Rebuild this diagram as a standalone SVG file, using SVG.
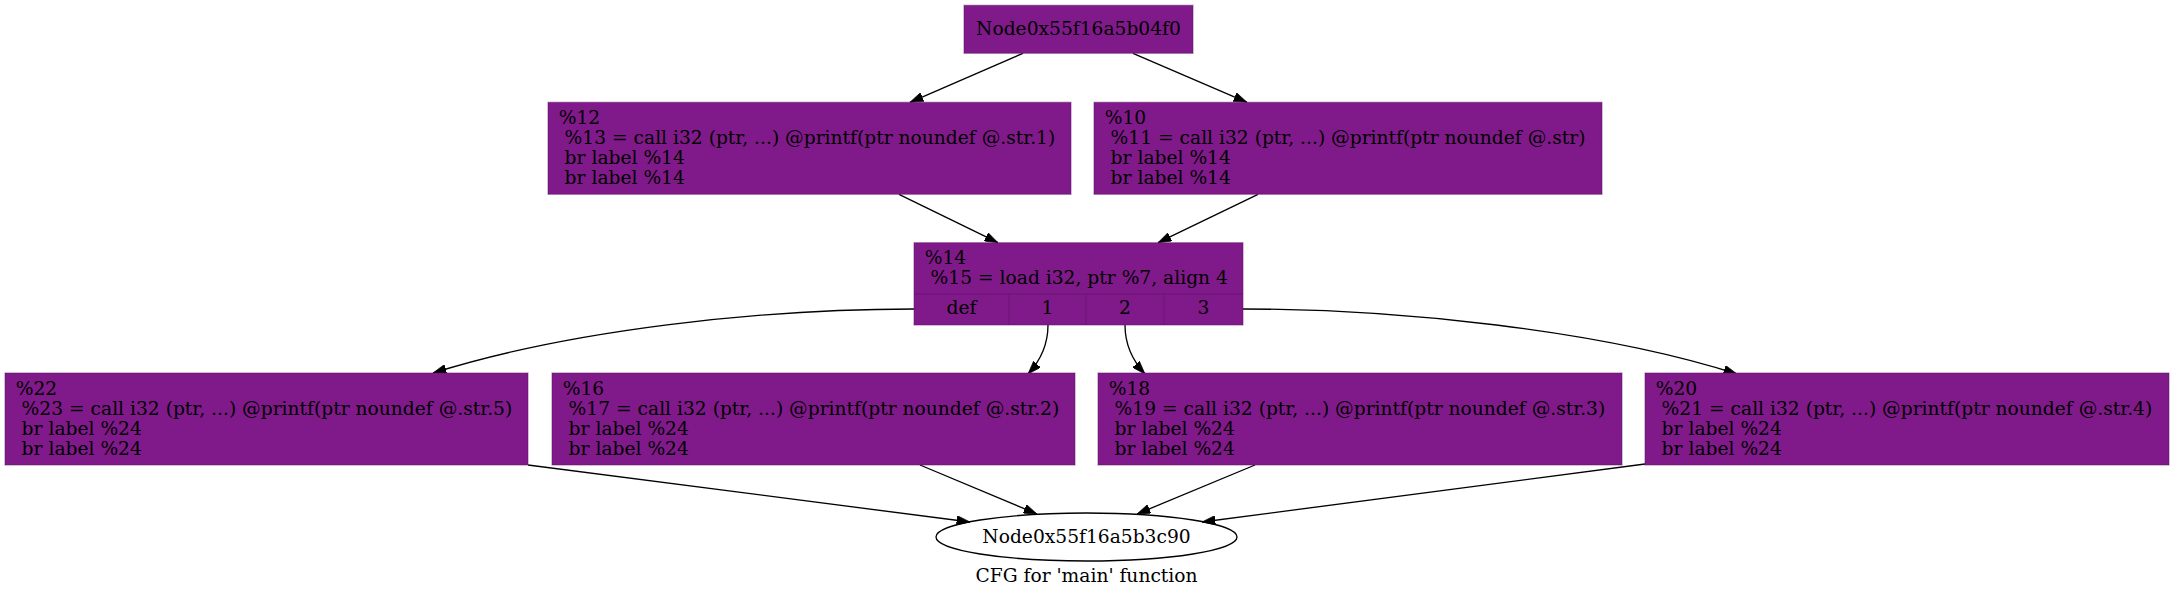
<svg xmlns="http://www.w3.org/2000/svg" width="2173" height="597" viewBox="0 0 2173 597" xml:space="preserve">
<style>
text{font-family:"DejaVu Serif","Liberation Serif",serif;font-size:18.67px;fill:#000;white-space:pre}
.c{text-anchor:middle}
.box{fill:#801a8a;stroke:#5a0f63;stroke-opacity:0.4;stroke-width:1.33}
.div{fill:none;stroke:#5a0f63;stroke-opacity:0.4;stroke-width:1.33}
.e{fill:none;stroke:#000;stroke-width:1.33}
</style>
<defs>
<marker id="ah" viewBox="0 0 10 7" refX="10" refY="3.5" markerWidth="13.33" markerHeight="9.33" markerUnits="userSpaceOnUse" orient="auto">
<path d="M0,0 L10,3.5 L0,7 Z" fill="#000" stroke="#000" stroke-width="0.5"/>
</marker>
</defs>
<rect width="2173" height="597" fill="#fff"/>
<g id="edges">
<path class="e" marker-end="url(#ah)" d="M1023,53.3 L910,102.3"/>
<path class="e" marker-end="url(#ah)" d="M1133,53.3 L1247,102.3"/>
<path class="e" marker-end="url(#ah)" d="M899,194.3 L998,242.7"/>
<path class="e" marker-end="url(#ah)" d="M1258,194.3 L1158,242.7"/>
<path class="e" marker-end="url(#ah)" d="M914,309 C760,309 570,330 433,373"/>
<path class="e" marker-end="url(#ah)" d="M1048,325 C1048,345 1041,360 1028,374"/>
<path class="e" marker-end="url(#ah)" d="M1125,325 C1125,345 1132,360 1145,374"/>
<path class="e" marker-end="url(#ah)" d="M1243,309 C1397,309 1600,330 1737,374"/>
<path class="e" marker-end="url(#ah)" d="M528,465 L970,522"/>
<path class="e" marker-end="url(#ah)" d="M920,465 L1037,514"/>
<path class="e" marker-end="url(#ah)" d="M1255,465 L1137,514"/>
<path class="e" marker-end="url(#ah)" d="M1645,464 L1202,522"/>
</g>
<g id="node_entry">
<rect class="box" x="964" y="5.3" width="229" height="48"/>
<text class="c" x="1078.5" y="35.3">Node0x55f16a5b04f0</text>
</g>
<g id="node_12">
<rect class="box" x="548" y="102.3" width="523" height="92"/>
<text x="558.7" y="124">%12</text>
<text x="558.7" y="144"> %13 = call i32 (ptr, ...) @printf(ptr noundef @.str.1)</text>
<text x="558.7" y="164"> br label %14</text>
<text x="558.7" y="184"> br label %14</text>
</g>
<g id="node_10">
<rect class="box" x="1094" y="102.3" width="508" height="92"/>
<text x="1104.7" y="124">%10</text>
<text x="1104.7" y="144"> %11 = call i32 (ptr, ...) @printf(ptr noundef @.str)</text>
<text x="1104.7" y="164"> br label %14</text>
<text x="1104.7" y="184"> br label %14</text>
</g>
<g id="node_14">
<rect class="box" x="914" y="242.7" width="329" height="82.3"/>
<path class="div" d="M914,294 H1243 M1009,294 V325 M1086,294 V325 M1164,294 V325"/>
<text x="924.7" y="264">%14</text>
<text x="924.7" y="284"> %15 = load i32, ptr %7, align 4</text>
<text class="c" x="961.5" y="313.5">def</text>
<text class="c" x="1047.5" y="313.5">1</text>
<text class="c" x="1125" y="313.5">2</text>
<text class="c" x="1203.5" y="313.5">3</text>
</g>
<g id="node_22">
<rect class="box" x="5" y="373" width="523" height="92"/>
<text x="15.7" y="394.7">%22</text>
<text x="15.7" y="414.7"> %23 = call i32 (ptr, ...) @printf(ptr noundef @.str.5)</text>
<text x="15.7" y="434.7"> br label %24</text>
<text x="15.7" y="454.7"> br label %24</text>
</g>
<g id="node_16">
<rect class="box" x="552" y="373" width="523" height="92"/>
<text x="562.7" y="394.7">%16</text>
<text x="562.7" y="414.7"> %17 = call i32 (ptr, ...) @printf(ptr noundef @.str.2)</text>
<text x="562.7" y="434.7"> br label %24</text>
<text x="562.7" y="454.7"> br label %24</text>
</g>
<g id="node_18">
<rect class="box" x="1098" y="373" width="524" height="92"/>
<text x="1108.7" y="394.7">%18</text>
<text x="1108.7" y="414.7"> %19 = call i32 (ptr, ...) @printf(ptr noundef @.str.3)</text>
<text x="1108.7" y="434.7"> br label %24</text>
<text x="1108.7" y="454.7"> br label %24</text>
</g>
<g id="node_20">
<rect class="box" x="1645" y="373" width="524" height="92"/>
<text x="1655.7" y="394.7">%20</text>
<text x="1655.7" y="414.7"> %21 = call i32 (ptr, ...) @printf(ptr noundef @.str.4)</text>
<text x="1655.7" y="434.7"> br label %24</text>
<text x="1655.7" y="454.7"> br label %24</text>
</g>
<g id="node_exit">
<ellipse cx="1086.5" cy="537" rx="150.5" ry="24" fill="none" stroke="#000" stroke-width="1.33"/>
<text class="c" x="1086.5" y="542.6">Node0x55f16a5b3c90</text>
</g>
<text class="c" x="1086.5" y="582">CFG for 'main' function</text>
</svg>
